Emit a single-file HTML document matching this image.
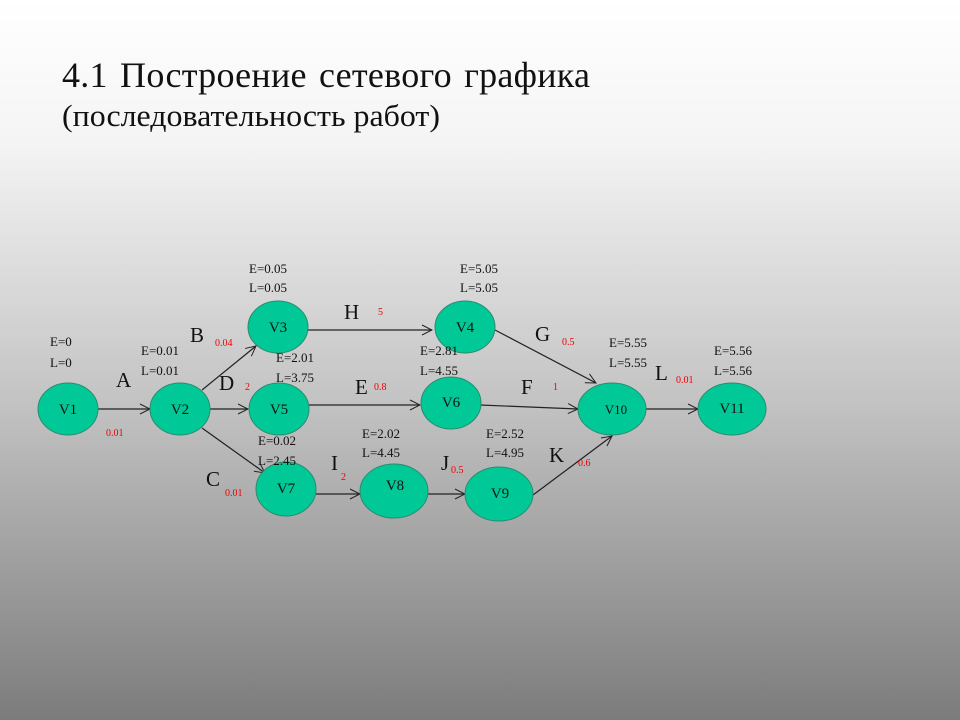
<!DOCTYPE html>
<html><head><meta charset="utf-8"><style>
html,body{margin:0;padding:0}
body{width:960px;height:720px;overflow:hidden;background:linear-gradient(#ffffff 0%,#f4f4f4 20%,#c4c4c4 55%,#7c7c7c 100%)}
svg{position:absolute;left:0;top:0}
text{font-family:"Liberation Serif",serif}
.t{font-size:13px;fill:#111}
.n{font-size:15px;fill:#111}
.b{font-size:21px;fill:#111}
.r{font-size:10px;fill:#e00}
</style></head><body>
<svg width="960" height="720" viewBox="0 0 960 720">
<defs><marker id="a" markerWidth="12" markerHeight="12" refX="11" refY="6" orient="auto" markerUnits="userSpaceOnUse"><path d="M1,1 L11,6 L1,11" fill="none" stroke="#222" stroke-width="1"/></marker></defs>
<text x="62" y="87" font-size="36" fill="#111" word-spacing="3" textLength="528" lengthAdjust="spacing">4.1 Построение сетевого графика</text>
<text x="62" y="126" font-size="31" fill="#111" textLength="378" lengthAdjust="spacingAndGlyphs">(последовательность работ)</text>
<g stroke="#222" stroke-width="1.2" fill="none" marker-end="url(#a)">
<line x1="98" y1="409" x2="150" y2="409"/>
<line x1="202" y1="390" x2="256" y2="346"/>
<line x1="210" y1="409" x2="248" y2="409"/>
<line x1="202" y1="428" x2="265" y2="473"/>
<line x1="308" y1="330" x2="432" y2="330"/>
<line x1="308" y1="405" x2="420" y2="405"/>
<line x1="316" y1="494" x2="360" y2="494"/>
<line x1="420" y1="494" x2="465" y2="494"/>
<line x1="495" y1="330" x2="596" y2="383"/>
<line x1="480" y1="405" x2="578" y2="409"/>
<line x1="533" y1="495" x2="612" y2="436"/>
<line x1="646" y1="409" x2="698" y2="409"/>
</g>
<g fill="#00c896" stroke="#2a8c6e" stroke-width="1">
<ellipse cx="68" cy="409" rx="30" ry="26"/>
<ellipse cx="180" cy="409" rx="30" ry="26"/>
<ellipse cx="278" cy="327" rx="30" ry="26"/>
<ellipse cx="279" cy="409" rx="30" ry="26"/>
<ellipse cx="286" cy="489" rx="30" ry="27"/>
<ellipse cx="465" cy="327" rx="30" ry="26"/>
<ellipse cx="451" cy="403" rx="30" ry="26"/>
<ellipse cx="394" cy="491" rx="34" ry="27"/>
<ellipse cx="499" cy="494" rx="34" ry="27"/>
<ellipse cx="612" cy="409" rx="34" ry="26"/>
<ellipse cx="732" cy="409" rx="34" ry="26"/>
</g>
<g class="n" text-anchor="middle">
<text x="68" y="414">V1</text><text x="180" y="414">V2</text><text x="278" y="332">V3</text>
<text x="279" y="414">V5</text><text x="286" y="493">V7</text><text x="465" y="332">V4</text>
<text x="451" y="407">V6</text><text x="395" y="490">V8</text><text x="500" y="498">V9</text>
<text x="616" y="414" font-size="13">V10</text><text x="732" y="413">V11</text>
</g>
<g class="t">
<text x="50" y="346">E=0</text><text x="50" y="367">L=0</text>
<text x="141" y="355">E=0.01</text><text x="141" y="375">L=0.01</text>
<text x="249" y="273">E=0.05</text><text x="249" y="292">L=0.05</text>
<text x="276" y="362">E=2.01</text><text x="276" y="382">L=3.75</text>
<text x="258" y="445">E=0.02</text><text x="258" y="465">L=2.45</text>
<text x="460" y="273">E=5.05</text><text x="460" y="292">L=5.05</text>
<text x="420" y="355">E=2.81</text><text x="420" y="375">L=4.55</text>
<text x="362" y="438">E=2.02</text><text x="362" y="457">L=4.45</text>
<text x="486" y="438">E=2.52</text><text x="486" y="457">L=4.95</text>
<text x="609" y="347">E=5.55</text><text x="609" y="367">L=5.55</text>
<text x="714" y="355">E=5.56</text><text x="714" y="375">L=5.56</text>
</g>
<g class="b">
<text x="116" y="387">A</text><text x="190" y="342">B</text><text x="219" y="390">D</text>
<text x="206" y="486">C</text><text x="344" y="319">H</text><text x="355" y="394">E</text>
<text x="331" y="470">I</text><text x="441" y="470">J</text><text x="535" y="341">G</text>
<text x="521" y="394">F</text><text x="549" y="462">K</text><text x="655" y="380">L</text>
</g>
<g class="r">
<text x="106" y="436">0.01</text><text x="215" y="346">0.04</text><text x="245" y="390">2</text>
<text x="225" y="496">0.01</text><text x="378" y="315">5</text><text x="374" y="390">0.8</text>
<text x="341" y="480">2</text><text x="451" y="473">0.5</text><text x="562" y="345">0.5</text>
<text x="553" y="390">1</text><text x="578" y="466">0.6</text><text x="676" y="383">0.01</text>
</g>
</svg>
</body></html>
